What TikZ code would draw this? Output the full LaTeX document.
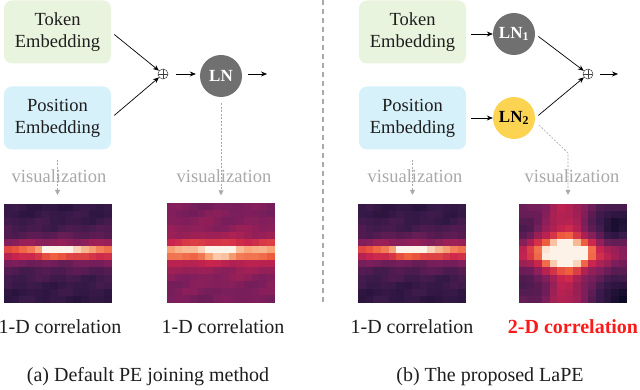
\documentclass[tikz,border=0pt]{standalone}
\usepackage{fontspec}
\setmainfont{Liberation Serif}
\newfontfamily\serf{Liberation Serif}
\usetikzlibrary{arrows.meta,calc}
\definecolor{tokfill}{HTML}{E9F4DE}
\definecolor{posfill}{HTML}{D7F1FB}
\definecolor{lngray}{HTML}{707070}
\definecolor{lnyellow}{HTML}{FDD452}
\definecolor{visgray}{HTML}{A9A9A9}
\definecolor{txt}{HTML}{1E1E1E}
\definecolor{corr}{HTML}{FF1A1A}
\definecolor{cmA}{HTML}{0D0A26}
\definecolor{cmB}{HTML}{3A1A4A}
\definecolor{cmC}{HTML}{7C1E5C}
\definecolor{cmD}{HTML}{C8234E}
\definecolor{cmE}{HTML}{EE5A3C}
\definecolor{cmF}{HTML}{F7A77A}
\definecolor{cmG}{HTML}{FDF3E8}
\newcommand\heatset[1]{%
  \pgfmathsetmacro\hv{max(0,min(0.999,#1))}%
  \ifdim\hv pt<0.2pt \pgfmathsetmacro\hp{\hv/0.2*100}\colorlet{hc}{cmB!\hp!cmA}%
  \else\ifdim\hv pt<0.4pt \pgfmathsetmacro\hp{(\hv-0.2)/0.2*100}\colorlet{hc}{cmC!\hp!cmB}%
  \else\ifdim\hv pt<0.6pt \pgfmathsetmacro\hp{(\hv-0.4)/0.2*100}\colorlet{hc}{cmD!\hp!cmC}%
  \else\ifdim\hv pt<0.75pt \pgfmathsetmacro\hp{(\hv-0.6)/0.15*100}\colorlet{hc}{cmE!\hp!cmD}%
  \else\ifdim\hv pt<0.88pt \pgfmathsetmacro\hp{(\hv-0.75)/0.13*100}\colorlet{hc}{cmF!\hp!cmE}%
  \else \pgfmathsetmacro\hp{(\hv-0.88)/0.12*100}\colorlet{hc}{cmG!\hp!cmF}%
  \fi\fi\fi\fi\fi}
\def\cw{7.7143}
\def\ch{7.0714}
\newcommand\heatmap[2]{%
  \begin{scope}
  \clip (#1.north west) rectangle (#1.south east);
  \foreach \i in {0,...,13}{\foreach \j in {0,...,13}{%
    \pgfmathsetmacro\vv{#2}\heatset{\vv}%
    \fill[hc] ($(#1.north west)+(\j*\cw,\i*\ch)$) rectangle ++(\cw+0.4,\ch+0.4);}}
  \end{scope}}
\def\fA{0.21 + 0.15*exp(-((\i-6.3)*(\i-6.3))/10) - 0.05*abs(\i-6.3)/6.5 + 0.3*exp(-((\i-6.3)*(\i-6.3))/1.5) + exp(-((\i-6.3)*(\i-6.3))/0.3)*(0.1+0.5*exp(-((\j-6.5)*(\j-6.5))/8)) + 0.1*exp(-((\i-6.3)*(\i-6.3))/2.5)*(\j/13) + 0.025*sin(\i*47+\j*83) + 0.02*cos(\i*131+\j*29)}
\def\fB{0.44 + 0.08*exp(-((\i-6.3)*(\i-6.3))/10) - 0.05*abs(\i-6.3)/6.5 + 0.33*exp(-((\i-6.3)*(\i-6.3))/2) + exp(-((\i-6.3)*(\i-6.3))/0.5)*(0.04+0.33*exp(-((\j-6.2)*(\j-6.2))/5)) + 0.02*sin(\i*53+\j*71) + 0.02*cos(\i*113+\j*37)}
\def\fD{0.36 + 0.6*exp(-((\i-6.5)*(\i-6.5))/5 - ((\j-5.5)*(\j-5.5))/18) + 0.2*exp(-((\i-6.5)*(\i-6.5))/2 - ((\j-5.5)*(\j-5.5))/5) + 0.2*exp(-((\j-5.5)*(\j-5.5))/6) + 0.12*exp(-((\i-6.5)*(\i-6.5))/3) - 0.3*exp(-((\i-2.5)*(\i-2.5)+(\j-12)*(\j-12))/8) - 0.34*exp(-((\i-13)*(\i-13)+(\j-13)*(\j-13))/12) - 0.12*exp(-((\i-3)*(\i-3)+(\j)*(\j))/4) - 0.12*exp(-((\i-11)*(\i-11)+(\j-1)*(\j-1))/6) + 0.02*sin(\i*61+\j*97)}
\begin{document}
\begin{tikzpicture}[x=1pt,y=-1pt,
  emb/.style={rounded corners=8pt, minimum width=107pt, minimum height=63pt, align=center, inner sep=0pt, text=txt, font=\serf\fontsize{18.5}{22}\selectfont},
  lnode/.style={circle, minimum size=42pt, inner sep=0pt, font=\serf\fontsize{17}{20}\selectfont\bfseries},
  opl/.style={circle, draw=black!75, line width=0.5pt, minimum size=10pt, inner sep=0pt,
     path picture={\draw[black!75, line width=0.5pt] (path picture bounding box.north) -- (path picture bounding box.south) (path picture bounding box.west) -- (path picture bounding box.east);}},
  arr/.style={-{Stealth[length=6pt,width=5pt]}, line width=0.7pt, black},
  visarr/.style={dashed, dash pattern=on 2pt off 1.5pt, visgray, line width=0.6pt, -{Triangle[length=5pt,width=5pt]}},
  vis/.style={text=visgray, font=\serf\fontsize{18.5}{20}\selectfont, inner sep=0pt},
  heat/.style={minimum width=108pt, minimum height=99pt, inner sep=0pt},
  lab/.style={font=\serf\fontsize{20}{22}\selectfont, text=txt, inner sep=0pt},
]
\useasboundingbox (0,0) rectangle (640,390);
\fill[white] (0,0) rectangle (640,390);
% separator
\draw[visgray, line width=1.2pt, dash pattern=on 5pt off 4pt] (323,0) -- (323,305);
% ---------- panel (a)
\node[emb, fill=tokfill] (tok1) at (57.5,32) {Token\\Embedding};
\node[emb, fill=posfill] (pos1) at (57.5,118) {Position\\Embedding};
\node[opl] (op1) at (163,74) {};
\node[lnode, fill=lngray, text=white] (ln) at (221,76) {LN};
\coordinate (out1) at (267,74);
\draw[arr, shorten <=4pt] (tok1.east) -- (op1);
\draw[arr, shorten <=4pt] (pos1.east) -- (op1);
\draw[arr, shorten <=8pt, shorten >=4pt] (op1) -- (op1 -| ln.west);
\draw[arr, shorten <=6pt] (ln.east |- op1) -- (out1);
\node[heat] (h1) at (58,253.5) {};
\node[heat] (h2) at (221,253) {};
\heatmap{h1}{\fA}
\heatmap{h2}{\fB}
\draw[visarr, shorten <=10pt, shorten >=9pt] (pos1.south) -- (pos1.south |- h1.north);
\draw[visarr, shorten <=6pt, shorten >=8pt] (ln.south) -- (h2.north);
\node[vis] (vis1) at (59,176) {visualization};
\node[vis] (vis2) at (224,176) {visualization};
\node[lab] (c1) at (60,327) {1-D correlation};
\node[lab] (c2) at (223,327) {1-D correlation};
\node[lab] (capa) at (148,377) {(a) Default PE joining method};
% ---------- panel (b)
\node[emb, fill=tokfill] (tok2) at (412.5,32) {Token\\Embedding};
\node[emb, fill=posfill] (pos2) at (412.5,118) {Position\\Embedding};
\node[lnode, fill=lngray, text=white] (ln1) at (514,34) {LN\textsubscript{1}};
\node[lnode, fill=lnyellow, text=black] (ln2) at (514,118) {LN\textsubscript{2}};
\node[opl] (op2) at (588,74) {};
\coordinate (out2) at (618,74);
\draw[arr, shorten <=5pt] (tok2.east |- ln1) -- (ln1);
\draw[arr, shorten <=5pt] (pos2.east |- ln2) -- (ln2);
\draw[arr, shorten <=4pt] (ln1.east) -- (op2);
\draw[arr, shorten <=4pt] (ln2.east) -- (op2);
\draw[arr, shorten <=7pt] (op2) -- (out2);
\node[heat] (h3) at (412,253.5) {};
\node[heat] (h4) at (573,253.5) {};
\heatmap{h3}{\fA}
\heatmap{h4}{\fD}
\coordinate (bend) at (568,153);
\draw[visarr, shorten <=10pt, shorten >=9pt] (pos2.south) -- (pos2.south |- h3.north);
\draw[visarr, shorten >=9pt] ($(ln2.center)+(25,7)$) -- (bend) -- (bend |- h4.north);
\node[vis] (vis3) at (415,176) {visualization};
\node[vis] (vis4) at (572,176) {visualization};
\node[lab] (c3) at (412,327) {1-D correlation};
\node[lab, text=corr, font=\serf\fontsize{20}{22}\selectfont\bfseries] (c4) at (573,327) {2-D correlation};
\node[lab] (capb) at (490,377) {(b) The proposed LaPE};
\end{tikzpicture}
\end{document}
